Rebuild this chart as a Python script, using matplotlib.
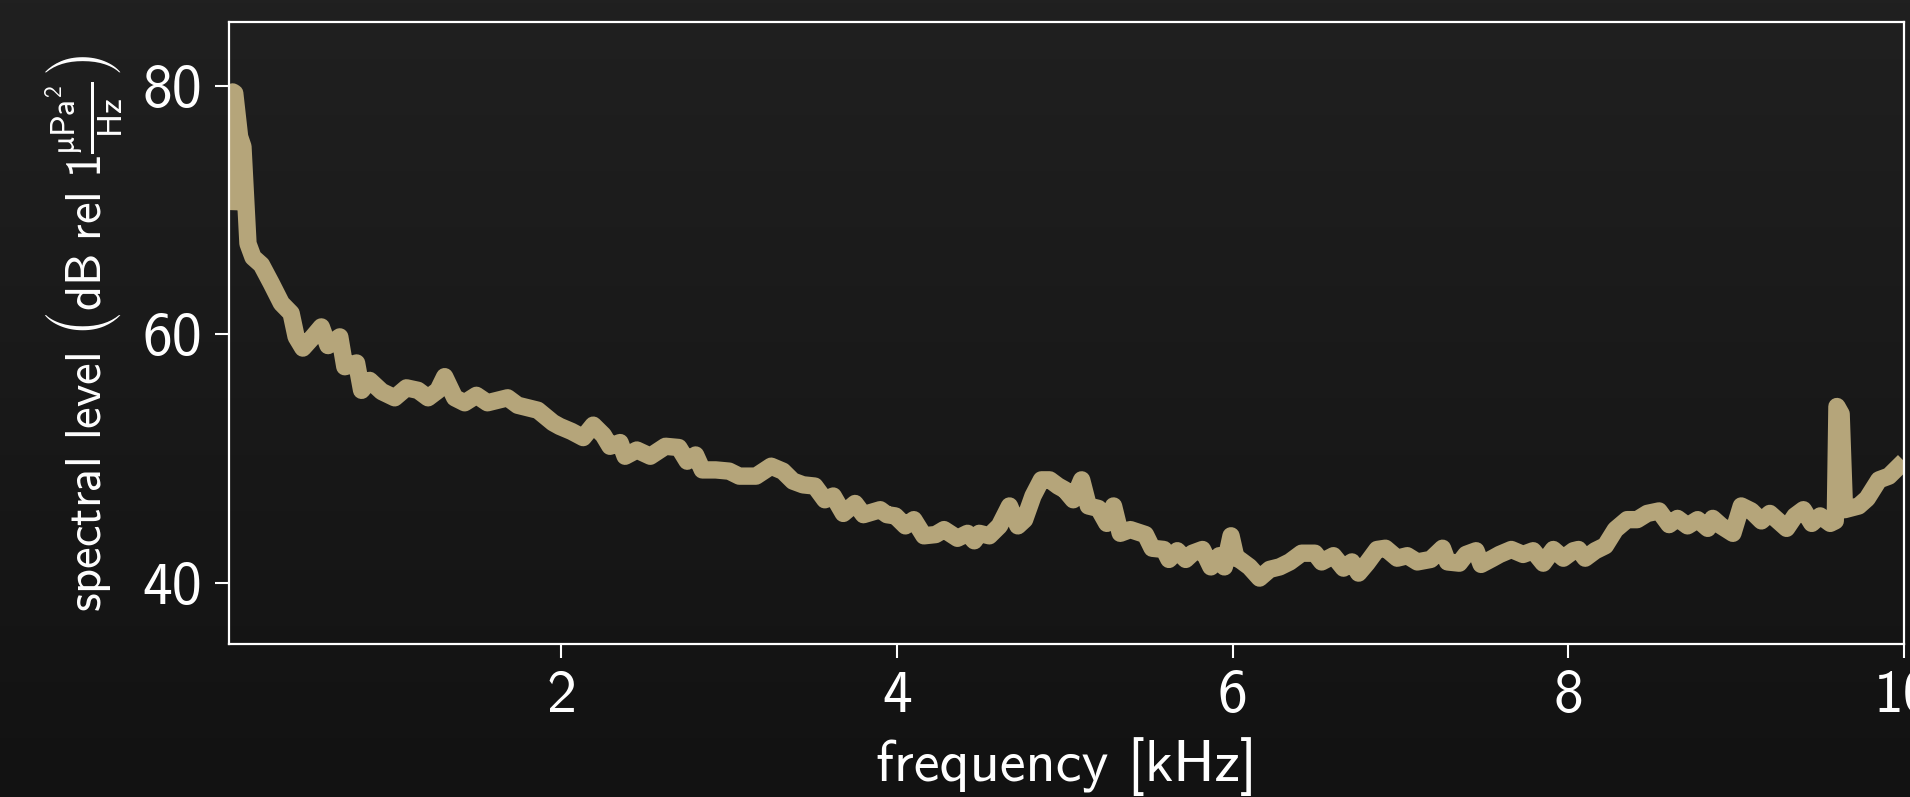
import numpy as np
import matplotlib
matplotlib.use("Agg")
import matplotlib.pyplot as plt
from matplotlib.colors import LinearSegmentedColormap

# ---- data ----
freq_khz = [0.02, 0.042, 0.054, 0.083, 0.103, 0.133, 0.163, 0.213, 0.272, 0.332,
            0.39, 0.42, 0.46, 0.52, 0.57, 0.61, 0.68, 0.71, 0.78, 0.81,
            0.858, 0.93, 1.007, 1.077, 1.146, 1.206, 1.265, 1.305, 1.365, 1.424,
            1.494, 1.56, 1.68, 1.74, 1.86, 1.95, 1.99, 2.06, 2.13, 2.19,
            2.25, 2.29, 2.35, 2.38, 2.45, 2.53, 2.62, 2.70, 2.75, 2.80,
            2.84, 2.92, 3.00, 3.06, 3.16, 3.25, 3.32, 3.38, 3.44, 3.51,
            3.57, 3.62, 3.68, 3.75, 3.80, 3.90, 3.94, 3.99, 4.05, 4.10,
            4.16, 4.23, 4.28, 4.36, 4.42, 4.46, 4.49, 4.55, 4.61, 4.67,
            4.72, 4.76, 4.81, 4.86, 4.91, 4.96, 5.00, 5.05, 5.10, 5.14,
            5.20, 5.25, 5.29, 5.33, 5.39, 5.48, 5.52, 5.59, 5.62, 5.67,
            5.72, 5.76, 5.82, 5.87, 5.92, 5.95, 5.99, 6.02, 6.04, 6.10,
            6.16, 6.22, 6.28, 6.34, 6.41, 6.49, 6.53, 6.60, 6.66, 6.71,
            6.75, 6.80, 6.86, 6.91, 6.98, 7.04, 7.10, 7.18, 7.25, 7.28,
            7.35, 7.39, 7.45, 7.48, 7.55, 7.59, 7.66, 7.73, 7.79, 7.85,
            7.91, 7.97, 8.03, 8.06, 8.10, 8.16, 8.22, 8.28, 8.35, 8.41,
            8.47, 8.54, 8.60, 8.65, 8.71, 8.77, 8.83, 8.86, 8.91, 8.98,
            9.03, 9.09, 9.15, 9.20, 9.25, 9.30, 9.35, 9.40, 9.45, 9.50,
            9.56, 9.59, 9.60, 9.625, 9.645, 9.73, 9.78, 9.85, 9.91, 9.97,
            10.0]
level_db = [70.0, 79.5, 79.4, 75.9, 75.1, 67.3, 66.2, 65.6, 64.1, 62.5,
            61.7, 59.8, 58.9, 59.8, 60.6, 59.1, 59.8, 57.4, 57.7, 55.5,
            56.3, 55.4, 54.9, 55.7, 55.5, 54.9, 55.5, 56.6, 54.9, 54.5,
            55.1, 54.5, 54.9, 54.3, 53.9, 52.9, 52.6, 52.2, 51.7, 52.7,
            51.9, 51.0, 51.3, 50.2, 50.7, 50.2, 51.0, 50.9, 49.8, 50.3,
            49.1, 49.1, 49.0, 48.6, 48.6, 49.4, 49.0, 48.2, 47.9, 47.8,
            46.7, 47.0, 45.6, 46.4, 45.5, 45.9, 45.5, 45.4, 44.6, 45.1,
            43.8, 43.9, 44.3, 43.6, 44.0, 43.4, 44.0, 43.8, 44.6, 46.2,
            44.6, 45.1, 47.0, 48.3, 48.3, 47.8, 47.5, 46.7, 48.3, 46.2,
            46.0, 44.8, 46.2, 44.0, 44.3, 43.9, 42.8, 42.7, 41.9, 42.6,
            41.9, 42.4, 42.7, 41.3, 42.2, 41.3, 43.8, 42.0, 41.9, 41.3,
            40.4, 41.1, 41.3, 41.7, 42.4, 42.4, 41.7, 42.2, 41.2, 41.7,
            40.8, 41.6, 42.7, 42.8, 42.0, 42.2, 41.7, 41.9, 42.8, 41.7,
            41.6, 42.3, 42.6, 41.5, 42.0, 42.3, 42.7, 42.3, 42.6, 41.6,
            42.7, 42.0, 42.6, 42.7, 42.0, 42.6, 43.0, 44.3, 45.1, 45.1,
            45.6, 45.8, 44.7, 45.2, 44.6, 45.1, 44.4, 45.2, 44.6, 44.0,
            46.2, 45.8, 45.0, 45.6, 45.0, 44.4, 45.4, 45.9, 44.8, 45.4,
            44.8, 45.0, 54.2, 53.6, 45.9, 46.2, 46.8, 48.3, 48.6, 49.4,
            49.8]
x_ticks = [2, 4, 6, 8, 10]
y_ticks = [40, 60, 80]

# ---- style ----
plt.rcParams['font.family'] = ['cmss10', 'DejaVu Sans']
plt.rcParams['mathtext.fontset'] = 'custom'
plt.rcParams['mathtext.rm'] = 'cmss10'
plt.rcParams['mathtext.it'] = 'cmss10'
plt.rcParams['mathtext.bf'] = 'cmss10'
plt.rcParams['mathtext.sf'] = 'cmss10'
plt.rcParams['mathtext.fallback'] = 'stixsans'
plt.rcParams['axes.unicode_minus'] = False

line_color = '#b5a57a'
fg = 'white'

fig = plt.figure(figsize=(19.10, 7.97), dpi=100)

# gradient background
bg = fig.add_axes([0, 0, 1, 1], zorder=-10)
grad = np.linspace(0, 1, 256).reshape(-1, 1)
cmap = LinearSegmentedColormap.from_list('bg', ['#202020', '#121212'])
bg.imshow(grad, aspect='auto', cmap=cmap, extent=[0, 1, 0, 1])
bg.set_axis_off()

ax = fig.add_axes([0.1199, 0.192, 0.8770, 0.780])
ax.set_facecolor('none')
ax.plot(freq_khz, level_db, color=line_color, lw=12.5,
        solid_capstyle='butt', solid_joinstyle='round')

ax.set_xlim(freq_khz[0], 10)
ax.set_ylim(35.1, 85.1)
ax.set_xticks(x_ticks)
ax.set_yticks(y_ticks)

for s in ax.spines.values():
    s.set_color(fg)
    s.set_linewidth(1.6)
ax.tick_params(colors=fg, labelsize=43, length=10, width=1.5, pad=9)

ax.set_xlabel('frequency [kHz]', color=fg, fontsize=42, labelpad=9)
ax.set_ylabel(r'spectral level $\left(\mathrm{dB\ rel\ 1\frac{\mu Pa^2}{Hz}}\right)$',
              color=fg, fontsize=35, labelpad=12)

fig.savefig('out.png', dpi=100)
